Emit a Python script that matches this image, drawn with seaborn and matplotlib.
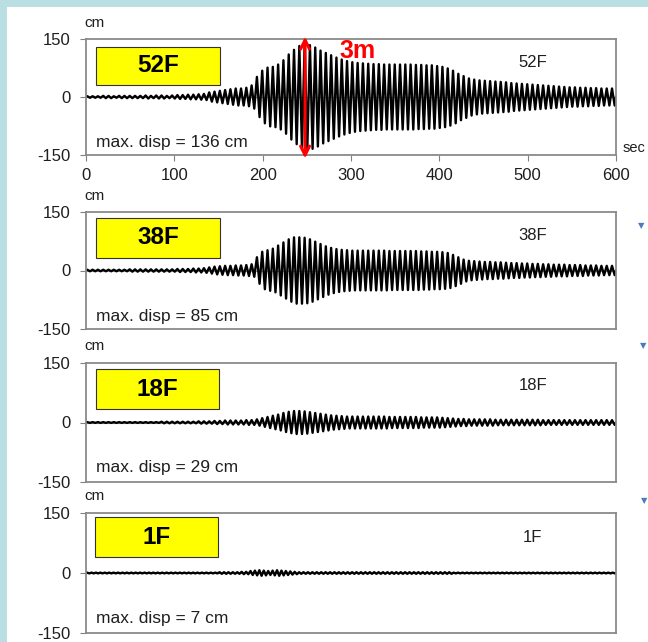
import numpy as np
import pandas as pd
import seaborn as sns
import matplotlib
matplotlib.use("Agg")
import matplotlib.pyplot as plt
from matplotlib.patches import Rectangle

sns.set_theme(style="white")
plt.rcParams['font.family'] = ['Liberation Sans', 'DejaVu Sans']

# ---------------- data ----------------
floors = ["52F", "38F", "18F", "1F"]
max_disp = [136, 85, 29, 7]          # cm
duration = 600                        # seconds

# peak amplitude of each oscillation cycle (cm), cycles spread evenly over 0-600 s
amp_52F = [2, 2, 2, 3, 3, 2, 3, 3, 3, 3, 3, 4, 3, 4, 4, 3, 4,
           5, 5, 6, 6, 7, 8,
           12, 14, 16, 18, 20, 22, 22, 24, 30,
           52, 68, 76, 78, 84, 95, 110, 122, 132, 136, 134, 128, 120, 114, 108, 102, 97, 93, 90,
           88, 87, 86, 85, 85, 84, 84, 84,
           84, 84, 84, 83, 83, 82, 82, 80, 78,
           74, 68, 60, 54, 48, 45,
           43, 42, 41, 40, 39, 38,
           36, 35, 34, 33, 32, 31, 30, 29, 28, 27,
           26, 25, 25, 24, 24, 23, 23, 22, 22, 22]

amp_38F = [2, 2, 2, 2, 2, 2, 2, 2, 3, 3, 3, 3, 3, 3, 3, 3, 3, 4, 4, 4, 5, 5, 6,
           8, 10, 11, 12, 12, 13, 13, 14, 16,
           34, 48, 52, 56, 64, 72, 80, 85, 85, 84, 80, 74, 68, 62, 58, 55, 53, 52, 51,
           51, 51, 51, 51, 51, 51, 50, 50, 50, 50, 50, 50, 49, 49, 48, 48, 47,
           45, 40, 34, 28, 25,
           24, 23, 22, 22, 21, 21, 20,
           19, 19, 18, 18, 17, 17, 16, 16, 15, 15,
           15, 14, 14, 14, 13, 13, 13, 12, 12, 12]

amp_18F = [1, 1, 1, 1, 1, 1, 1, 1, 1, 1, 1, 1, 1, 1, 2, 2, 2, 2, 2, 2, 2, 3, 3,
           3, 4, 4, 5, 5, 5, 5, 6, 6,
           8, 11, 14, 17, 20, 24, 27, 29, 29, 28, 26, 24, 22, 20, 18, 17, 16, 15, 15,
           15, 15, 15, 15, 15, 15, 14, 14, 14, 14, 14, 14, 13, 13, 13, 13, 12,
           11, 10, 9, 9, 8,
           8, 8, 8, 8, 7, 7, 7,
           7, 7, 7, 7, 7, 7, 6, 6, 6, 6,
           6, 6, 6, 6, 6, 6, 6, 6, 6, 6]

amp_1F = [1, 1, 1, 1, 1, 1, 1, 1, 1, 1, 1, 1, 1, 1, 1, 1, 1, 1, 1, 1, 1, 1, 1, 1, 1, 1, 1, 1, 1, 1,
          2, 2, 2, 2, 2, 3, 3,
          5, 6, 7, 6, 5, 6, 7, 6, 5, 4, 3,
          2, 2, 2, 2, 2, 2, 2, 2, 2, 2, 2, 2, 2, 2, 2, 2, 2, 2, 2, 2,
          2, 2, 2, 2, 2, 2, 2, 2, 2, 2, 2, 2, 2, 2, 2, 1, 1, 1, 1, 1,
          1, 1, 1, 1, 1, 1, 1, 1, 1, 1, 1, 1, 1, 1, 1, 1, 1, 1, 1, 1,
          1, 1, 1, 1, 1, 1, 1, 1, 1, 1, 1, 1]

amps = {"52F": amp_52F, "38F": amp_38F, "18F": amp_18F, "1F": amp_1F}

# build a table: each cycle drawn as one crest (+A) and one trough (-A)
rows = []
for f in floors:
    a = amps[f]
    per = duration / len(a)
    rows.append((f, 0.0, 0.0))
    for i, v in enumerate(a):
        rows.append((f, i * per + per / 4, v))
        rows.append((f, i * per + 3 * per / 4, -v))
    rows.append((f, float(duration), 0.0))
df = pd.DataFrame(rows, columns=["floor", "t", "disp"])

# ---------------- figure ----------------
W, H = 648, 642
fig = plt.figure(figsize=(W / 100, H / 100), dpi=100)
fig.patch.set_facecolor("white")

# light-blue slide border
bl = "#b9dfe3"
fig.add_artist(Rectangle((0, 1 - 7 / H), 1, 7 / H, transform=fig.transFigure,
                         color=bl, lw=0, zorder=0))
fig.add_artist(Rectangle((0, 0), 7 / W, 1, transform=fig.transFigure,
                         color=bl, lw=0, zorder=0))

# axes frames in pixels (left, right, top, bottom)
frames = [(86, 616, 39, 155), (86, 616, 212, 329), (86, 616, 363, 482), (86, 616, 513, 633)]
box_px = [(96, 220, 47, 85), (96, 220, 218, 258), (96, 219, 369, 409), (95, 218, 517, 557)]
right_lbl_y = [0.80, 0.80, 0.815, 0.80]
disp_lbl_y = [0.11, 0.11, 0.125, 0.125]
txt = "#1e1e1e"

axes = []
for k, f in enumerate(floors):
    l, r, t, b = frames[k]
    ax = fig.add_axes([l / W, 1 - b / H, (r - l) / W, (b - t) / H])
    axes.append(ax)
    ax.set_facecolor("white")
    ax.axhline(0, color="#9a9a9a", lw=0.8, zorder=1)
    sns.lineplot(data=df[df.floor == f], x="t", y="disp", ax=ax, color="black",
                 lw=1.7, estimator=None, zorder=2)
    ax.set_xlim(0, duration)
    ax.set_ylim(-150, 150)
    ax.set_xlabel("")
    ax.set_ylabel("")
    ax.set_yticks([-150, 0, 150])
    ax.set_yticklabels(["-150", "0", "150"])
    ax.tick_params(axis="y", left=True, length=4, width=0.8, color="#808080",
                   pad=7, labelsize=12, labelcolor=txt)
    for s in ax.spines.values():
        s.set_color("#8a8a8a")
        s.set_linewidth(1.3)
    if k == 0:
        ax.set_xticks([0, 100, 200, 300, 400, 500, 600])
        ax.set_xticklabels(["0", "100", "200", "300", "400", "500", "600"])
        ax.tick_params(axis="x", bottom=True, length=4, width=0.8, color="#808080",
                       pad=5, labelsize=12, labelcolor=txt)
        ax.text(1.012, 0.06, "sec", transform=ax.transAxes, ha="left", va="center",
                fontsize=10.5, color=txt, clip_on=False)
    else:
        ax.set_xticks([])
    # unit label
    ax.text(-0.004, 1.08, "cm", transform=ax.transAxes, ha="left", va="bottom",
            fontsize=11, color=txt)
    # yellow floor box
    bx0, bx1, by0, by1 = box_px[k]
    ax.add_patch(Rectangle(((bx0 - l) / (r - l), (b - by1) / (b - t)),
                           (bx1 - bx0) / (r - l), (by1 - by0) / (b - t),
                           transform=ax.transAxes, facecolor="#ffff00",
                           edgecolor="#333333", lw=0.8, zorder=3))
    ax.text(((bx0 + bx1) / 2 - l) / (r - l), (b - (by0 + by1) / 2) / (b - t), f,
            transform=ax.transAxes, ha="center", va="center", fontsize=17.5,
            fontweight="bold", color="black", zorder=4)
    ax.text(0.843, right_lbl_y[k], f, transform=ax.transAxes, ha="center",
            va="center", fontsize=12, color=txt)
    ax.text(0.019, disp_lbl_y[k], f"max. disp = {max_disp[k]} cm", transform=ax.transAxes,
            ha="left", va="center", fontsize=12.5, color=txt)

# red 3 m arrow on top panel
ax1 = axes[0]
ax1.annotate("", xy=(248, -159), xytext=(248, 156),
             arrowprops=dict(arrowstyle="<->", color="red", lw=2.2, mutation_scale=16,
                             shrinkA=0, shrinkB=0),
             annotation_clip=False, zorder=5)
ax1.text(307, 120, "3m", color="red", fontsize=18, fontweight="bold",
         ha="center", va="center", zorder=5)

# small blue arrow fragments at the right edge
for (px, py) in [(641, 226), (643, 346), (644, 501)]:
    fig.text(px / W, 1 - py / H, "\u25BC", color="#4a7cc0", fontsize=6,
             ha="center", va="center", family=["DejaVu Sans"])

fig.savefig("out.png", dpi=100, facecolor=fig.get_facecolor())
